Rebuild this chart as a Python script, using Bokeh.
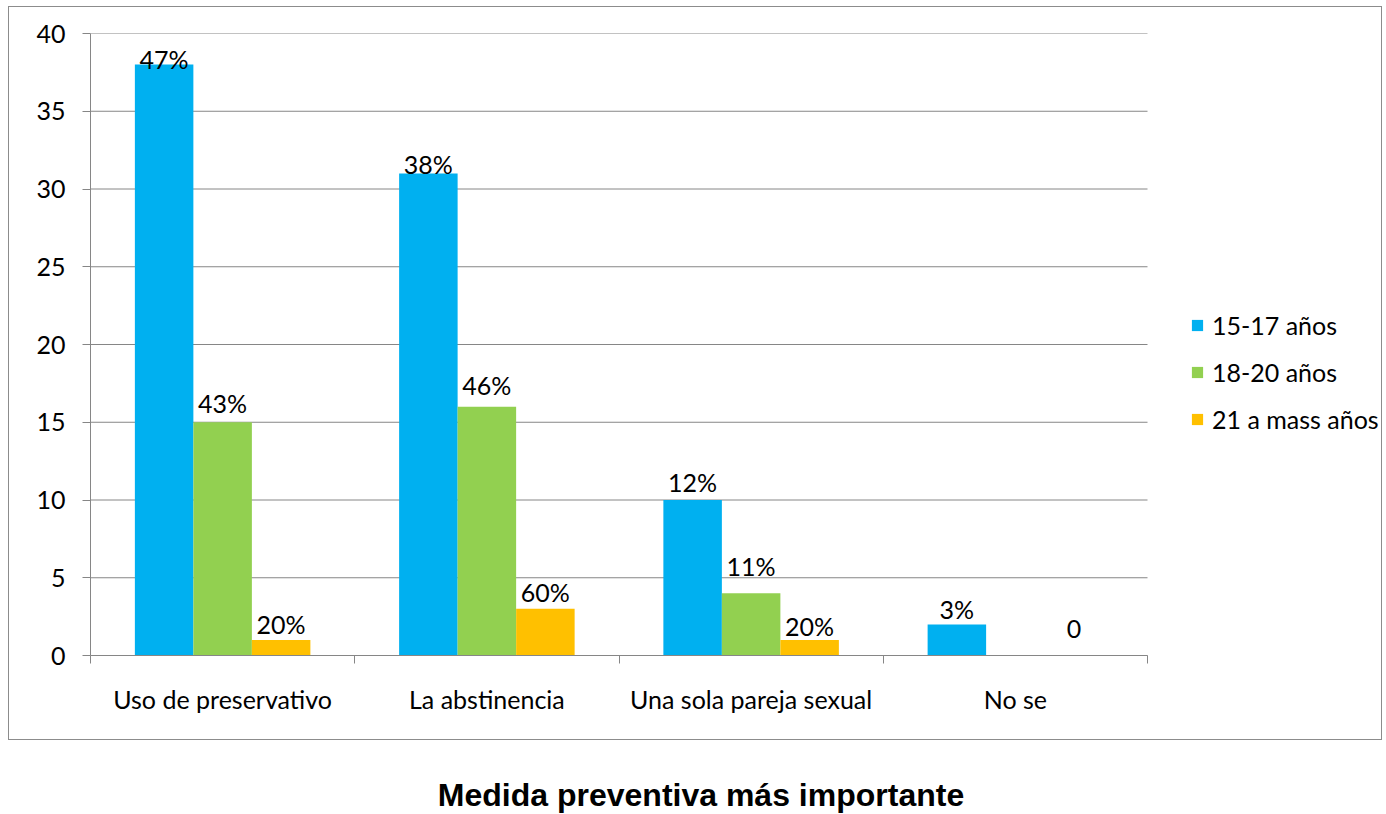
from bokeh.plotting import figure
from bokeh.models import (Range1d, FixedTicker, Legend, LegendItem, ColumnDataSource, Div)
from bokeh.layouts import column
from bokeh.core.properties import value
from bokeh.embed import file_html
from bokeh.resources import INLINE

categories = ["Uso de preservativo", "La abstinencia", "Una sola pareja sexual", "No se"]
series_names = ["15-17 años", "18-20 años", "21 a mass años"]
s1 = [38, 31, 10, 2]
s2 = [15, 16, 4, 0]
s3 = [1, 3, 1, 0]
s1_labels = ["47%", "38%", "12%", "3%"]
s2_labels = ["43%", "46%", "11%", ""]
s3_labels = ["20%", "60%", "20%", "0"]
y_ticks = [0, 5, 10, 15, 20, 25, 30, 35, 40]

colors = ["#00B0F0", "#92D050", "#FFC000"]
label_offsets = [[-6, -9, -18, -15], [-19, -22, -27, 0], [-16, -17, -14, -27]]  # px, style only

FONT = "Lato"
FS = "25px"
GRID = "#868686"

ncat = len(categories)
# frame spans further right than the category area so that the legend fits inside it
x_end = ncat * 1293 / 1057

p = figure(width=1374, height=734, output_backend="svg", toolbar_location=None,
           x_range=Range1d(0, x_end), y_range=Range1d(0, 40),
           min_border_left=81, min_border_right=0, min_border_top=26, min_border_bottom=86,
           styles={"border": "1px solid #8c8c8c"})
p.outline_line_color = None
p.background_fill_color = "white"
p.border_fill_color = "white"
p.xgrid.grid_line_color = None
p.ygrid.grid_line_color = None

# horizontal gridlines limited to the category area
p.segment(x0=0, x1=ncat, y0=y_ticks, y1=y_ticks, line_color=GRID, line_width=1)

bw = 0.2214
offsets = [-bw, 0, bw]
series = [s1, s2, s3]
labels = [s1_labels, s2_labels, s3_labels]
items = []
for i, (vals, lab, col, name) in enumerate(zip(series, labels, colors, series_names)):
    xs = [k + 0.5 + offsets[i] for k in range(ncat)]
    src = ColumnDataSource(dict(x=xs, top=vals, lab=lab, off=label_offsets[i]))
    r = p.vbar(x="x", top="top", width=bw, source=src, fill_color=col, line_color=None)
    p.text(x="x", y="top", text="lab", source=src, text_align="center", text_baseline="middle",
           y_offset="off", text_font=value(FONT), text_font_size=FS, text_color="black")
    items.append(LegendItem(label=name, renderers=[r]))

# y axis
p.yaxis.ticker = FixedTicker(ticks=y_ticks)
p.yaxis.axis_line_color = GRID
p.yaxis.major_tick_line_color = GRID
p.yaxis.major_tick_out = 8
p.yaxis.major_tick_in = 0
p.yaxis.minor_tick_line_color = None
p.yaxis.major_label_standoff = 17
p.yaxis.major_label_text_font = FONT
p.yaxis.major_label_text_font_size = FS
p.yaxis.major_label_text_color = "black"

# x axis: labels at centres, tick marks at boundaries
p.xaxis.ticker = FixedTicker(ticks=[k + 0.5 for k in range(ncat)],
                             minor_ticks=list(range(ncat + 1)))
p.xaxis.bounds = (0, ncat)
p.xaxis.major_label_overrides = {k + 0.5: c for k, c in enumerate(categories)}
p.xaxis.axis_line_color = GRID
p.xaxis.major_tick_line_color = None
p.xaxis.major_tick_out = 0
p.xaxis.major_tick_in = 0
p.xaxis.minor_tick_line_color = GRID
p.xaxis.minor_tick_out = 8
p.xaxis.minor_tick_in = 0
p.xaxis.major_label_standoff = 20
p.xaxis.major_label_text_font = FONT
p.xaxis.major_label_text_font_size = FS
p.xaxis.major_label_text_color = "black"

legend = Legend(items=items, location=(1100, 221), padding=0, spacing=17, margin=0,
                glyph_width=14, glyph_height=14, label_standoff=8, label_height=30,
                label_text_font=FONT, label_text_font_size=FS, label_text_color="black",
                label_text_baseline="middle",
                border_line_color=None, background_fill_alpha=0)
p.add_layout(legend, "center")

title = Div(text="Medida preventiva más importante", width=1376, height=66,
            styles={"font-family": "Liberation Sans, Arial, sans-serif", "font-weight": "bold",
                    "font-size": "32px", "text-align": "center", "width": "1376px",
                    "padding-top": "28px", "color": "black"})

layout = column(p, title, spacing=0, margin=(6, 0, 0, 8))
open("out.html", "w").write(file_html(layout, INLINE))
